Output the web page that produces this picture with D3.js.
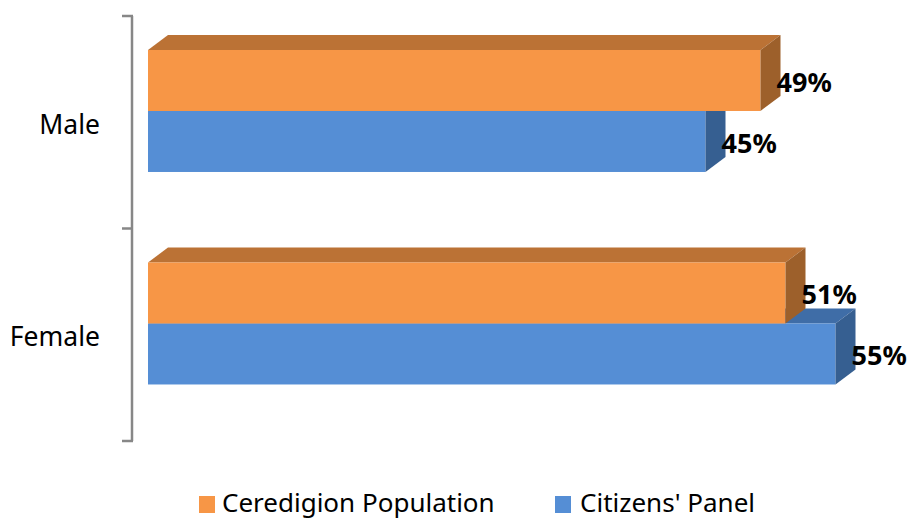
<!DOCTYPE html>
<html>
<head>
<meta charset="utf-8">
<script src="https://cdn.jsdelivr.net/npm/d3@7"></script>
<style>
  html, body { margin: 0; padding: 0; background: #fff; }
  svg { display: block; }
</style>
</head>
<body>
<svg id="chart" width="911" height="520"></svg>
<script>
const categories = ["Male", "Female"];
const seriesNames = ["Ceredigion Population", "Citizens' Panel"];
const ceredigionValues = [49, 51];
const panelValues = [44.6, 55];

const colors = {
  "Ceredigion Population": { front: "#F79646", top: "#BB7235", side: "#9D602B" },
  "Citizens' Panel": { front: "#558ED5", top: "#3F6DA7", side: "#365F91" }
};

const svg = d3.select("#chart");
const font = "'Noto Sans', 'Open Sans', sans-serif";

const x = d3.scaleLinear().domain([0, 60]).range([148, 898]);
const y = d3.scaleBand().domain(categories).range([16, 441]).padding(0);
const bw = y.bandwidth();
const barH = bw * 0.287;
const depthX = 20, depthY = -15;

const data = categories.map((c, i) => ({
  category: c,
  values: [
    { series: seriesNames[0], value: ceredigionValues[i] },
    { series: seriesNames[1], value: panelValues[i] }
  ]
}));

// axis
const axisX = 132;
const ag = svg.append("g");
ag.append("line")
  .attr("x1", axisX).attr("x2", axisX)
  .attr("y1", y.range()[0]).attr("y2", y.range()[1])
  .attr("stroke", "#878787").attr("stroke-width", 2.5);
const tickYs = [y.range()[0], ...categories.slice(1).map(c => y(c)), y.range()[1]];
ag.selectAll("line.tick").data(tickYs).enter().append("line")
  .attr("class", "tick")
  .attr("x1", axisX - 10).attr("x2", axisX + 1)
  .attr("y1", d => d).attr("y2", d => d)
  .attr("stroke", "#878787").attr("stroke-width", 2.5);

// category labels
svg.selectAll("text.cat").data(categories).enter().append("text")
  .attr("class", "cat")
  .attr("x", 100)
  .attr("y", d => y(d) + bw / 2 + 11.5)
  .attr("text-anchor", "end")
  .attr("font-family", font)
  .attr("font-size", 26.5)
  .attr("fill", "#000")
  .text(d => d);

// bars
const x0 = x(0);
data.forEach(g => {
  const top0 = y(g.category) + bw * 0.16;
  const order = [1, 0];
  order.forEach(si => {
    const d = g.values[si];
    const c = colors[d.series];
    const yt = top0 + si * barH;
    const yb = yt + barH;
    const xe = x(d.value);
    const grp = svg.append("g");
    grp.append("path")
      .attr("d", `M${x0},${yt} L${x0 + depthX},${yt + depthY} L${xe + depthX},${yt + depthY} L${xe},${yt} Z`)
      .attr("fill", c.top);
    grp.append("rect")
      .attr("x", x0).attr("y", yt)
      .attr("width", xe - x0).attr("height", barH)
      .attr("fill", c.front);
    grp.append("path")
      .attr("d", `M${xe},${yt} L${xe + depthX},${yt + depthY} L${xe + depthX},${yb + depthY} L${xe},${yb} Z`)
      .attr("fill", c.side);
  });
  g.values.forEach((d, si) => {
    const yt = top0 + si * barH;
    svg.append("text")
      .attr("x", x(d.value) + 16)
      .attr("y", yt + barH / 2 + 1.5)
      .attr("dy", "0.36em")
      .attr("font-family", font)
      .attr("font-weight", "bold")
      .attr("font-size", 27)
      .attr("fill", "#000")
      .text(d3.format(".0f")(d.value) + "%");
  });
});

// legend
const legend = svg.append("g");
const legendItems = [
  { name: seriesNames[0], sx: 199, tx: 222 },
  { name: seriesNames[1], sx: 555, tx: 580 }
];
legendItems.forEach(it => {
  legend.append("rect")
    .attr("x", it.sx).attr("y", 496)
    .attr("width", 16).attr("height", 17)
    .attr("fill", colors[it.name].front);
  legend.append("text")
    .attr("x", it.tx).attr("y", 512)
    .attr("font-family", font)
    .attr("font-size", 26)
    .attr("fill", "#000")
    .text(it.name);
});
</script>
</body>
</html>
